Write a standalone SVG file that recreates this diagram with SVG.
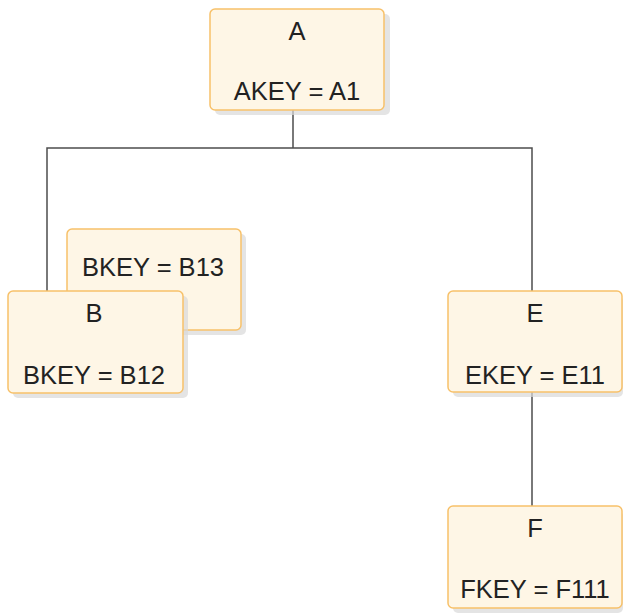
<svg xmlns="http://www.w3.org/2000/svg" width="623" height="613" viewBox="0 0 623 613">
<defs>
<style>
.box{fill:#fef6e6;stroke:#f7c16a;stroke-width:1.5}
.sh{fill:#d9d9d9;opacity:0.7}
.t{font-family:"Liberation Sans",Arial,sans-serif;font-size:25.5px;fill:#222;text-anchor:middle}
.c{stroke:#4d4d4d;stroke-width:1.5;fill:none}
</style>
</defs>
<rect width="623" height="613" fill="#ffffff"/>
<g id="connectors">
<path class="c" d="M293 110 V148 M47 291 V148 H532 V291 M532 392 V506"/>
</g>
<g id="A">
<rect class="sh" x="215" y="14" width="175" height="101" rx="5"/>
<rect class="box" x="210" y="9" width="174" height="101" rx="5"/>
<text class="t" x="297" y="40">A</text>
<text class="t" x="297" y="100">AKEY = A1</text>
</g>
<g id="B13">
<rect class="sh" x="72" y="234" width="174" height="101" rx="5"/>
<rect class="box" x="67" y="229" width="174" height="101" rx="5"/>
<text class="t" x="153" y="276">BKEY = B13</text>
</g>
<g id="B">
<rect class="sh" x="13" y="296" width="175" height="102" rx="5"/>
<rect class="box" x="8" y="291" width="175" height="102" rx="5"/>
<text class="t" x="94" y="322">B</text>
<text class="t" x="94" y="384">BKEY = B12</text>
</g>
<g id="E">
<rect class="sh" x="453" y="296" width="170" height="101" rx="5"/>
<rect class="box" x="448" y="291" width="174" height="101" rx="5"/>
<text class="t" x="535" y="322">E</text>
<text class="t" x="535" y="384">EKEY = E11</text>
</g>
<g id="F">
<rect class="sh" x="453" y="511" width="170" height="102" rx="5"/>
<rect class="box" x="448" y="506" width="174" height="102" rx="5"/>
<text class="t" x="535" y="537">F</text>
<text class="t" x="535" y="598">FKEY = F111</text>
</g>
</svg>
